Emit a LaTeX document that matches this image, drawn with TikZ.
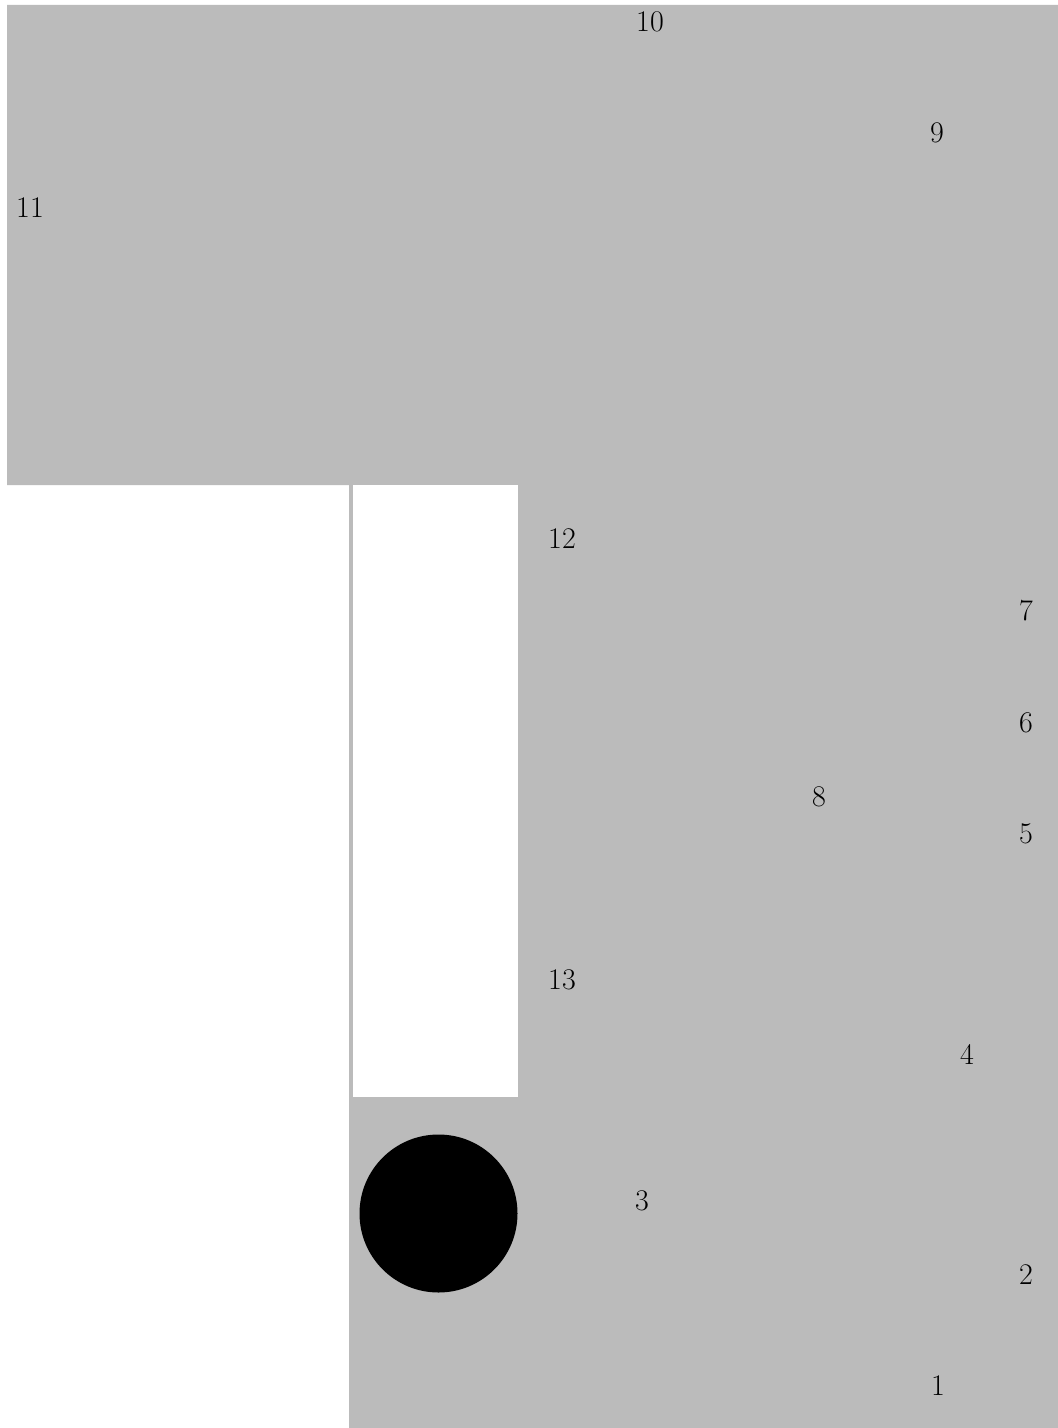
\documentclass[tikz,border=0pt]{standalone}
\usepackage{tikz}
\usetikzlibrary{positioning}
\definecolor{slabgray}{HTML}{BBBBBB}

\begin{document}
\begin{tikzpicture}[x=0.5pt,y=-0.5pt,
tag/.style={inner sep=0pt,font=\fontsize{15}{17}\selectfont}]
\useasboundingbox (0,0) rectangle (1058,1428);
\fill[slabgray] (7,5)--(1058,5)--(1058,1428)--(349,1428)--(349,485)--(7,485)--cycle;
\fill[white] (353,485) rectangle (518,1097);
\fill[black] (438.5,1213.5) circle (79);
\foreach \id/\px/\py in {1/938/1386,2/1026/1275,3/642/1201,4/967/1054,5/1026/834,6/1026/723,7/1026/611,8/819/797,9/937/133,10/650/22,11/30/208,12/562/539,13/562/980}
  {\node[tag] (n\id) at (\px,\py) {\id};}
\end{tikzpicture}
\end{document}
